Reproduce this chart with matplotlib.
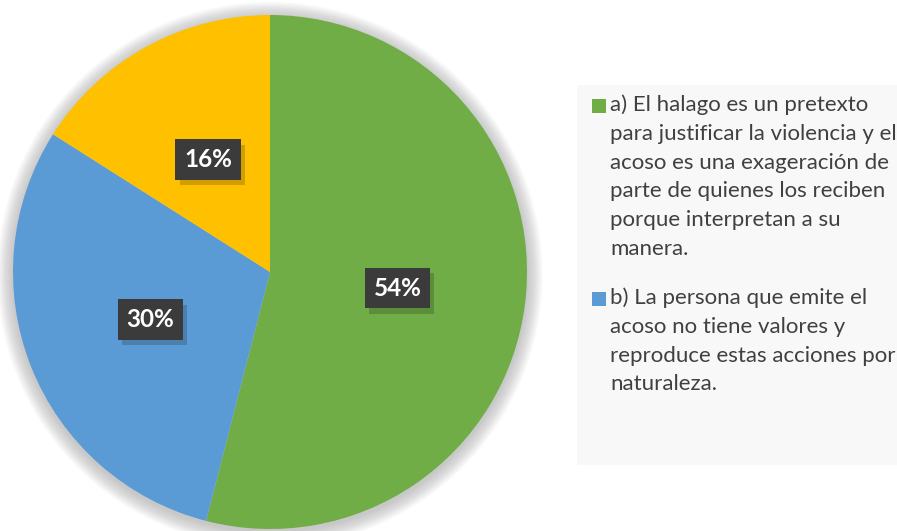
import numpy as np
import matplotlib.pyplot as plt
import matplotlib.patheffects as pe
from matplotlib.patches import Circle, Rectangle

# values
shares = [54, 30, 16]
colors = ["#70ad47", "#5b9bd5", "#ffc000"]
legend_labels = [
    "a) El halago es un pretexto\npara justificar la violencia y el\nacoso es una exageración de\n"
    "parte de quienes los reciben\nporque interpretan a su\nmanera.",
    "b) La persona que emite el\nacoso no tiene valores y\nreproduce estas acciones por\nnaturaleza.",
]

plt.rcParams["font.family"] = ["Lato", "DejaVu Sans"]

W, H = 897, 531
fig = plt.figure(figsize=(W / 100, H / 100), dpi=100)
fig.patch.set_facecolor("white")

# pie centre (270, 272) px from top-left, radius 257 px
cx, cy, r = 270, 272, 257
ax = fig.add_axes([(cx - r) / W, (H - cy - r) / H, 2 * r / W, 2 * r / H])

# soft shadow around the pie
n_rings = 22
for k in range(n_rings):
    rad = 1.0 + 0.0028 * (n_rings - k)
    ax.add_patch(Circle((0, -0.01), rad, color="#a0a0a0", alpha=0.03,
                        lw=0, zorder=0, clip_on=False))

wedges, texts, autotexts = ax.pie(
    shares, colors=colors, startangle=90, counterclock=False,
    autopct="%d%%", pctdistance=0.5, radius=1.0,
    wedgeprops=dict(linewidth=0, zorder=2),
)
ax.set_xlim(-1, 1)
ax.set_ylim(-1, 1)
ax.set_aspect("equal")
ax.axis("off")

for t in autotexts:
    t.set_fontsize(17.5)
    t.set_fontweight("bold")
    t.set_color("white")
    t.set_zorder(4)
    t.set_bbox(dict(boxstyle="square,pad=0.36", facecolor="#3b3b3b",
                    edgecolor="none", linewidth=0))
    t.get_bbox_patch().set_path_effects([
        pe.SimplePatchShadow(offset=(3, -4), shadow_rgbFace="black", alpha=0.18),
        pe.Normal(),
    ])

# legend panel
fig.patches.append(Rectangle((577 / W, 1 - 465 / H), (W - 577) / W, 380 / H,
                             transform=fig.transFigure, facecolor="#f8f8f8",
                             edgecolor="none", zorder=0))

legend_tops = [94, 287]
for lab, col, top in zip(legend_labels, colors, legend_tops):
    fig.patches.append(Rectangle((592 / W, 1 - (top + 19) / H), 14 / W, 14 / H,
                                 transform=fig.transFigure, facecolor=col,
                                 edgecolor="none", zorder=2))
    fig.text(610 / W, 1 - top / H, lab, ha="left", va="top", fontsize=16,
             color="#404040", linespacing=1.56, zorder=3)

fig.savefig("out.png", dpi=100)
